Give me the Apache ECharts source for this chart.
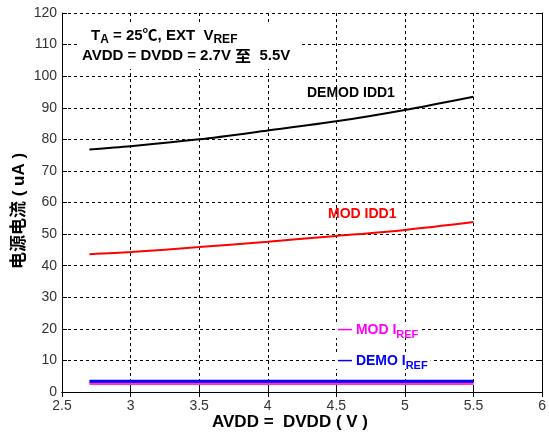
<!DOCTYPE html>
<html>
<head>
<meta charset="utf-8">
<script src="https://cdn.jsdelivr.net/npm/echarts@6/dist/echarts.min.js"></script>
<style>
  html, body { margin: 0; padding: 0; background: #fff; }
  #chart { width: 549px; height: 436px; }
</style>
</head>
<body>
<div id="chart"></div>
<script>
// ==================== 数据 ====================
const vdd = [2.7, 3, 3.5, 4, 4.5, 5, 5.5];
const demodIdd1 = [76.8, 77.8, 80.0, 82.8, 85.7, 89.3, 93.5];
const modIdd1 = [43.6, 44.3, 45.9, 47.6, 49.4, 51.3, 53.8];
const modIref = [2.7, 2.7, 2.7, 2.7, 2.7, 2.7, 2.7];
const demoIref = [3.4, 3.4, 3.4, 3.4, 3.4, 3.4, 3.4];

const FONT = '"Liberation Sans", Arial, "Noto Sans CJK SC", sans-serif';

function pairs(ys) {
    return vdd.map((x, i) => [x, ys[i]]);
}

const chart = echarts.init(document.getElementById('chart'), null, { renderer: 'canvas' });

const dashed = { show: true, lineStyle: { color: '#000', width: 1, type: [3, 3] } };
const tickIn = { show: true, inside: true, length: 5, lineStyle: { color: '#000' } };
const axisLine = { show: true, lineStyle: { color: '#000', width: 1 } };
const tickFont = { color: '#333', fontSize: 14, fontFamily: FONT };

// 带下标的富文本
function subRich(color, size) {
    return {
        a: { font: 'bold ' + size + 'px ' + FONT, fill: color, verticalAlign: 'bottom' },
        s: { font: 'bold ' + (size - 3) + 'px ' + FONT, fill: color, verticalAlign: 'bottom', padding: [0, 0, -3, 0] }
    };
}

chart.setOption({
    backgroundColor: '#fff',
    animation: false,
    grid: { left: 62, right: 4, top: 13, bottom: 44 },
    xAxis: [{
        type: 'value', min: 2.5, max: 6, interval: 0.5,
        axisLine, axisTick: tickIn, splitLine: dashed,
        axisLabel: Object.assign({ margin: 7 }, tickFont)
    }, {
        type: 'value', position: 'top', min: 2.5, max: 6, interval: 0.5,
        axisLine, axisTick: tickIn, splitLine: { show: false }, axisLabel: { show: false }
    }],
    yAxis: [{
        type: 'value', min: 0, max: 120, interval: 10,
        axisLine, axisTick: tickIn, splitLine: dashed,
        axisLabel: Object.assign({ margin: 5 }, tickFont)
    }, {
        type: 'value', position: 'right', min: 0, max: 120, interval: 10,
        axisLine, axisTick: tickIn, splitLine: { show: false }, axisLabel: { show: false }
    }],
    series: [
        { type: 'line', data: pairs(demodIdd1), smooth: 0.3, symbol: 'none', z: 5,
          lineStyle: { color: '#000', width: 2 } },
        { type: 'line', data: pairs(modIdd1), smooth: 0.3, symbol: 'none', z: 5,
          lineStyle: { color: '#ff0000', width: 2 } },
        { type: 'line', data: pairs(modIref), symbol: 'none', z: 5,
          lineStyle: { color: '#ff33cc', width: 3 } },
        { type: 'line', data: pairs(demoIref), symbol: 'none', z: 6,
          lineStyle: { color: '#0000ff', width: 3 } }
    ],
    graphic: [
        // 条件说明框
        { type: 'rect', left: 78, top: 23, z: 10,
          shape: { width: 224, height: 46 }, style: { fill: '#fff' } },
        { type: 'text', left: 91, top: 28, z: 11,
          style: { text: '{a|T}{s|A}{a| = 25℃, EXT  V}{s|REF}', rich: subRich('#000', 15) } },
        { type: 'text', left: 82, top: 48, z: 11,
          style: {
              text: '{a|AVDD = DVDD = 2.7V }{c|至}{a|  5.5V}',
              rich: {
                  a: { font: 'bold 15px ' + FONT, fill: '#000' },
                  c: { font: 'bold 16px "Noto Sans CJK SC", sans-serif', fill: '#000' }
              }
          } },
        // 曲线标注
        { type: 'text', left: 307, top: 86, z: 11,
          style: { text: 'DEMOD IDD1', font: 'bold 14px ' + FONT, fill: '#000' } },
        { type: 'text', left: 328, top: 207, z: 11,
          style: { text: 'MOD IDD1', font: 'bold 14px ' + FONT, fill: '#ff0000' } },
        { type: 'text', left: 336, top: 322, z: 11,
          style: { text: '{a|— MOD I}{s|REF}', backgroundColor: '#fff', padding: [1, 3, 1, 2],
                   rich: subRich('#ff00ff', 14) } },
        { type: 'text', left: 336, top: 353, z: 11,
          style: { text: '{a|— DEMO I}{s|REF}', backgroundColor: '#fff', padding: [1, 3, 1, 2],
                   rich: subRich('#0000ff', 14) } },
        // 坐标轴标题
        { type: 'text', left: 212, top: 414, z: 11,
          style: { text: 'AVDD =  DVDD ( V )', font: 'bold 17px ' + FONT, fill: '#000' } },
        { type: 'text', x: 19, y: 211, rotation: Math.PI / 2, z: 11,
          style: { text: '电源电流 ( uA )', font: 'bold 17px ' + FONT, fill: '#000',
                   align: 'center', verticalAlign: 'middle' } }
    ]
});
</script>
</body>
</html>
